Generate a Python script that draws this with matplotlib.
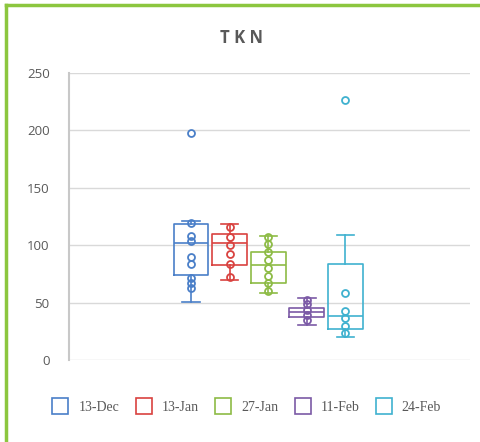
import matplotlib.pyplot as plt
from matplotlib.lines import Line2D
import numpy as np

# values
dates = ["13-Dec", "13-Jan", "27-Jan", "11-Feb", "24-Feb"]
colors = ["#4a7fc8", "#d9423f", "#8dbb45", "#7b5aa6", "#3fb1cf"]

q1 = [74, 82.4, 66.7, 37.7, 26.7]
med = [102, 101.6, 82.7, 41.5, 38.3]
q3 = [118.5, 109.8, 94.3, 45, 83.6]
whislo = [50.5, 69.7, 58.6, 30.5, 19.8]
whishi = [121, 118.5, 108, 53.6, 108.9]
outliers = [[197.7], [], [], [], [226.5]]

inner_dec = [119.6, 108, 104, 90, 84, 71.4, 67.3, 63]
inner_jan13 = [115.5, 107, 100, 92, 84, 72.6]
inner_jan27 = [106.8, 101, 94.3, 87.1, 79.8, 73.2, 66.7, 60.4]
inner_feb11 = [52.3, 48.8, 43.5, 39.2, 34.8]
inner_feb24 = [58.1, 42.9, 36.3, 29.6, 23.8]
inner = [inner_dec, inner_jan13, inner_jan27, inner_feb11, inner_feb24]

fig = plt.figure(figsize=(4.81, 4.42), dpi=100)
ax = fig.add_axes([0.1435, 0.1855, 0.834, 0.6495])

pos = np.arange(len(dates)) * 1.0
for i, c in enumerate(colors):
    st = dict(med=med[i], q1=q1[i], q3=q3[i], whislo=whislo[i],
              whishi=whishi[i], fliers=outliers[i])
    ax.bxp([st], positions=[pos[i]], widths=0.9, showfliers=True,
           boxprops=dict(color=c, lw=1.2),
           medianprops=dict(color=c, lw=1.2),
           whiskerprops=dict(color=c, lw=1.2),
           capprops=dict(color=c, lw=1.2),
           flierprops=dict(marker='o', mfc='white', mec=c, ms=5, mew=1.3))
    ax.plot([pos[i]] * len(inner[i]), inner[i], 'o', mfc='none', mec=c,
            ms=5, mew=1.3, zorder=3)

# center the group of boxes in the plot area
ax.set_xlim(-3.165, 7.235)
ax.set_ylim(0, 250)
ax.set_yticks(range(0, 251, 50))
ax.set_xticks([])
ax.grid(axis='y', color='#d9d9d9', lw=1)
ax.set_axisbelow(True)
for s in ['top', 'right', 'bottom']:
    ax.spines[s].set_visible(False)
ax.spines['left'].set_color('#c8c8c8')
ax.spines['left'].set_linewidth(1.5)
ax.tick_params(axis='y', length=0, pad=14, labelsize=9.5, labelcolor='#595959')
for lab in ax.get_yticklabels():
    lab.set_family('Open Sans')

fig.text(0.503, 0.915, "T K N", ha='center', va='center', fontsize=12,
         fontweight='bold', color='#595959', family='Open Sans')

handles = [Line2D([], [], marker='s', ls='none', mfc='none', mec=c, ms=11, mew=1.2)
           for c in colors]
fig.legend(handles, dates, loc='center', bbox_to_anchor=(0.507, 0.078), ncol=5,
           frameon=False, handletextpad=0.3, columnspacing=0.75,
           prop=dict(family='Liberation Serif', size=10), labelcolor='#595959')

# green frame along the top and left edges
fig.add_artist(Line2D([0.0115, 1.0], [0.988, 0.988], color='#8cc63f', lw=2.5,
                      transform=fig.transFigure))
fig.add_artist(Line2D([0.0115, 0.0115], [0.0, 0.988], color='#8cc63f', lw=2.5,
                      transform=fig.transFigure))

fig.savefig("out.png", dpi=100)
